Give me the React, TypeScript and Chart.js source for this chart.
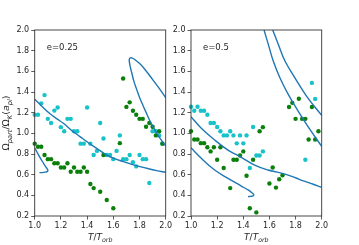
import React, { useEffect, useRef } from "react";
import { Chart, registerables } from "chart.js";

Chart.register(...registerables);

const FONT = "'DejaVu Sans', sans-serif";
const CYAN = "#17c3c8";
const GREEN = "#0a800a";
const CURVE = "#1f77b4";
const INK = "#262626";

// ---------- tick labels ----------
const xTicks = [1.0, 1.2, 1.4, 1.6, 1.8, 2.0];
const yTicks = [0.2, 0.4, 0.6, 0.8, 1.0, 1.2, 1.4, 1.6, 1.8, 2.0];

// ---------- left panel (e=0.25) ----------
const leftCyanX = [1.0, 1.025, 1.05, 1.075, 1.1, 1.125, 1.15, 1.175, 1.2, 1.225, 1.25, 1.275, 1.3, 1.325, 1.35, 1.375, 1.4, 1.425, 1.45, 1.475, 1.5, 1.525, 1.55, 1.575, 1.6, 1.625, 1.65, 1.675, 1.7, 1.725, 1.75, 1.775, 1.8, 1.825, 1.85, 1.875, 1.9, 1.925, 1.95, 1.975];
const leftCyanY = [1.18, 1.18, 1.29, 1.37, 1.14, 1.1, 1.22, 1.25, 1.06, 1.02, 1.14, 1.14, 1.02, 1.02, 0.9, 0.9, 1.25, 0.9, 0.79, 0.83, 1.1, 0.95, 0.79, 0.79, 0.75, 0.83, 0.98, 0.75, 0.75, 0.79, 0.72, 0.68, 0.79, 0.75, 0.75, 0.52, 1.02, 1.02, 0.98, 0.9];

const leftGreenX = [1.0, 1.025, 1.05, 1.075, 1.1, 1.125, 1.15, 1.175, 1.2, 1.225, 1.25, 1.275, 1.3, 1.325, 1.35, 1.375, 1.4, 1.425, 1.45, 1.5, 1.525, 1.55, 1.6, 1.65, 1.675, 1.7, 1.725, 1.75, 1.775, 1.8, 1.825, 1.85, 1.875, 1.9, 1.925, 1.95, 1.975];
const leftGreenY = [0.9, 0.87, 0.87, 0.79, 0.75, 0.75, 0.71, 0.71, 0.67, 0.67, 0.71, 0.628, 0.67, 0.628, 0.628, 0.67, 0.628, 0.51, 0.47, 0.435, 0.79, 0.355, 0.275, 0.905, 1.53, 1.256, 1.3, 1.218, 1.18, 1.14, 1.14, 1.064, 1.1, 1.064, 0.98, 1.02, 0.9];

const leftCurveAX = [1.0, 1.06, 1.117, 1.17, 1.219, 1.28, 1.346, 1.423, 1.473, 1.55, 1.61, 1.677, 1.74, 1.804, 1.87, 1.931, 2.0];
const leftCurveAY = [1.33, 1.255, 1.19, 1.14, 1.097, 1.03, 0.968, 0.897, 0.855, 0.79, 0.755, 0.726, 0.7, 0.678, 0.657, 0.639, 0.623];

const leftCurveBX = [1.0, 1.03, 1.06, 1.085, 1.1, 1.098, 1.08, 1.055, 1.036];
const leftCurveBY = [0.86, 0.79, 0.725, 0.675, 0.645, 0.632, 0.624, 0.62, 0.62];

const leftCurveCX = [2.0, 1.96, 1.919, 1.88, 1.843, 1.805, 1.766, 1.745, 1.73, 1.722, 1.724, 1.732, 1.741, 1.758, 1.779, 1.803, 1.829, 1.855, 1.88, 1.912, 1.944, 1.972, 2.0];
const leftCurveCY = [1.344, 1.418, 1.488, 1.555, 1.616, 1.67, 1.712, 1.728, 1.73, 1.715, 1.68, 1.63, 1.584, 1.5, 1.423, 1.34, 1.263, 1.19, 1.119, 1.045, 0.975, 0.925, 0.879];

// ---------- right panel (e=0.5) ----------
const rightCyanX = [1.0, 1.025, 1.05, 1.075, 1.1, 1.125, 1.15, 1.175, 1.2, 1.225, 1.25, 1.275, 1.3, 1.325, 1.35, 1.375, 1.4, 1.425, 1.45, 1.475, 1.5, 1.525, 1.55, 1.875, 1.925, 1.95];
const rightCyanY = [1.257, 1.218, 1.257, 1.218, 1.218, 1.18, 1.1, 1.1, 1.062, 1.02, 0.98, 0.98, 1.02, 0.98, 0.903, 0.98, 0.903, 0.98, 0.665, 1.062, 0.785, 0.785, 0.825, 0.745, 1.488, 1.333];

const rightGreenX = [1.0, 1.025, 1.05, 1.075, 1.1, 1.125, 1.15, 1.175, 1.2, 1.225, 1.25, 1.3, 1.325, 1.35, 1.375, 1.4, 1.425, 1.45, 1.475, 1.5, 1.525, 1.55, 1.6, 1.625, 1.65, 1.675, 1.7, 1.75, 1.775, 1.8, 1.825, 1.85, 1.875, 1.9, 1.925, 1.95, 1.975];
const rightGreenY = [1.02, 0.94, 0.94, 0.905, 0.905, 0.865, 0.825, 0.865, 0.745, 0.865, 0.665, 0.47, 0.745, 0.745, 0.785, 0.825, 0.59, 0.275, 0.745, 0.235, 1.02, 1.06, 0.515, 0.67, 0.475, 0.555, 0.595, 1.255, 1.295, 1.14, 1.335, 1.14, 1.14, 0.94, 1.255, 0.94, 1.02];

const rightCurveAX = [1.0, 1.079, 1.181, 1.283, 1.385, 1.487, 1.589, 1.66, 1.732, 1.8, 1.86, 1.93, 2.0];
const rightCurveAY = [1.161, 1.049, 0.935, 0.838, 0.768, 0.693, 0.645, 0.625, 0.6, 0.57, 0.54, 0.51, 0.478];

const rightCurveBX = [1.0, 1.079, 1.181, 1.283, 1.385, 1.44, 1.466, 1.48, 1.475, 1.458, 1.436];
const rightCurveBY = [0.86, 0.758, 0.645, 0.564, 0.49, 0.45, 0.425, 0.405, 0.395, 0.39, 0.388];

const rightCurveCX = [1.559, 1.592, 1.63, 1.681, 1.745, 1.821, 1.911, 2.0];
const rightCurveCY = [2.0, 1.858, 1.697, 1.535, 1.374, 1.213, 1.035, 0.874];

const rightCurveDX = [1.625, 1.669, 1.72, 1.796, 1.885, 2.0];
const rightCurveDY = [2.0, 1.858, 1.697, 1.535, 1.358, 1.174];

type Seg = { t: string; sub?: boolean; it?: boolean };

const xLabel: Seg[] = [{ t: "T", it: true }, { t: "/" }, { t: "T", it: true }, { t: "orb", sub: true, it: true }];
const yLabel: Seg[] = [
  { t: "Ω" }, { t: "part", sub: true, it: true }, { t: "/" }, { t: "Ω" }, { t: "K", sub: true, it: true },
  { t: "(" }, { t: "a", it: true }, { t: "pl", sub: true, it: true }, { t: ")" },
];

function segFont(s: Seg, size: number) {
  return `${s.it ? "italic " : ""}${s.sub ? size * 0.7 : size}px ${FONT}`;
}

function drawMath(ctx: CanvasRenderingContext2D, segs: Seg[], cx: number, cy: number, size: number) {
  let total = 0;
  const widths = segs.map((s) => {
    ctx.font = segFont(s, size);
    const w = ctx.measureText(s.t).width;
    total += w;
    return w;
  });
  let x = cx - total / 2;
  ctx.textBaseline = "middle";
  ctx.textAlign = "left";
  segs.forEach((s, i) => {
    ctx.font = segFont(s, size);
    ctx.fillText(s.t, x, s.sub ? cy + size * 0.3 : cy);
    x += widths[i];
  });
}

function zip(xs: number[], ys: number[]) {
  return xs.map((x, i) => ({ x, y: ys[i] }));
}

function pointsDs(xs: number[], ys: number[], color: string) {
  return {
    data: zip(xs, ys),
    showLine: false,
    pointRadius: 2.2,
    pointBorderWidth: 0,
    pointBackgroundColor: color,
    pointBorderColor: color,
    clip: false as const,
  };
}

function curveDs(xs: number[], ys: number[]) {
  return {
    data: zip(xs, ys),
    showLine: true,
    pointRadius: 0,
    borderColor: CURVE,
    borderWidth: 1.4,
    tension: 0.4,
    fill: false,
    clip: 0,
  };
}

type PanelProps = {
  datasets: any[];
  padLeft: number;
  padRight: number;
  yWidth: number;
  note: string;
  showYLabel: boolean;
};

function Panel({ datasets, padLeft, padRight, yWidth, note, showYLabel }: PanelProps) {
  const ref = useRef<HTMLCanvasElement | null>(null);
  useEffect(() => {
    if (!ref.current) return;
    const decor = {
      id: "decor",
      afterDatasetsDraw(chart: any) {
        const { ctx, chartArea } = chart;
        const { left, right, top, bottom } = chartArea;
        ctx.save();
        ctx.strokeStyle = "#333";
        ctx.lineWidth = 0.9;
        ctx.strokeRect(left, top, right - left, bottom - top);
        ctx.fillStyle = INK;
        ctx.font = `8.5px ${FONT}`;
        ctx.textAlign = "left";
        ctx.textBaseline = "middle";
        ctx.fillText(note, left + 12, top + 17.5);
        drawMath(ctx, xLabel, (left + right) / 2, 238, 9);
        if (showYLabel) {
          ctx.translate(7, (top + bottom) / 2);
          ctx.rotate(-Math.PI / 2);
          drawMath(ctx, yLabel, 0, 0, 9.5);
        }
        ctx.restore();
      },
    };
    const chart = new Chart(ref.current, {
      type: "scatter",
      data: { datasets },
      options: {
        animation: false,
        responsive: false,
        devicePixelRatio: 1,
        layout: { padding: { left: padLeft, right: padRight, top: 30, bottom: 0 } },
        plugins: { legend: { display: false }, tooltip: { enabled: false } },
        scales: {
          x: {
            type: "linear",
            min: 1.0,
            max: 2.0,
            afterFit: (s: any) => { s.height = 29; },
            afterBuildTicks: (s: any) => { s.ticks = xTicks.map((v) => ({ value: v })); },
            ticks: {
              font: { family: FONT, size: 8 },
              color: INK,
              padding: 2,
              maxRotation: 0,
              autoSkip: false,
              callback: (v: any) => Number(v).toFixed(1),
            },
            grid: { display: true, drawOnChartArea: false, drawTicks: true, tickLength: 3.5, color: "#333", lineWidth: 0.8 },
            border: { display: false },
          },
          y: {
            type: "linear",
            min: 0.2,
            max: 2.0,
            afterFit: (s: any) => { s.width = yWidth; },
            afterBuildTicks: (s: any) => { s.ticks = yTicks.map((v) => ({ value: v })); },
            ticks: {
              font: { family: FONT, size: 8 },
              color: INK,
              padding: 2,
              autoSkip: false,
              callback: (v: any) => Number(v).toFixed(1),
            },
            grid: { display: true, drawOnChartArea: false, drawTicks: true, tickLength: 3.5, color: "#333", lineWidth: 0.8 },
            border: { display: false },
          },
        },
      },
      plugins: [decor],
    } as any);
    return () => chart.destroy();
  }, []);
  return (
    <canvas
      ref={ref}
      width={359}
      height={245}
      style={{ position: "absolute", left: 0, top: 0, width: 359, height: 245 }}
    />
  );
}

export default function App() {
  const leftSets = [
    curveDs(leftCurveAX, leftCurveAY),
    curveDs(leftCurveBX, leftCurveBY),
    curveDs(leftCurveCX, leftCurveCY),
    pointsDs(leftGreenX, leftGreenY, GREEN),
    pointsDs(leftCyanX, leftCyanY, CYAN),
  ];
  const rightSets = [
    curveDs(rightCurveAX, rightCurveAY),
    curveDs(rightCurveBX, rightCurveBY),
    curveDs(rightCurveCX, rightCurveCY),
    curveDs(rightCurveDX, rightCurveDY),
    pointsDs(rightGreenX, rightGreenY, GREEN),
    pointsDs(rightCyanX, rightCyanY, CYAN),
  ];
  return (
    <div style={{ position: "absolute", left: 0, top: 0, width: 359, height: 245, background: "#fff" }}>
      <Panel datasets={leftSets} padLeft={0} padRight={193.3} yWidth={34.7} note="e=0.25" showYLabel={true} />
      <Panel datasets={rightSets} padLeft={170} padRight={37.3} yWidth={21} note="e=0.5" showYLabel={false} />
    </div>
  );
}
